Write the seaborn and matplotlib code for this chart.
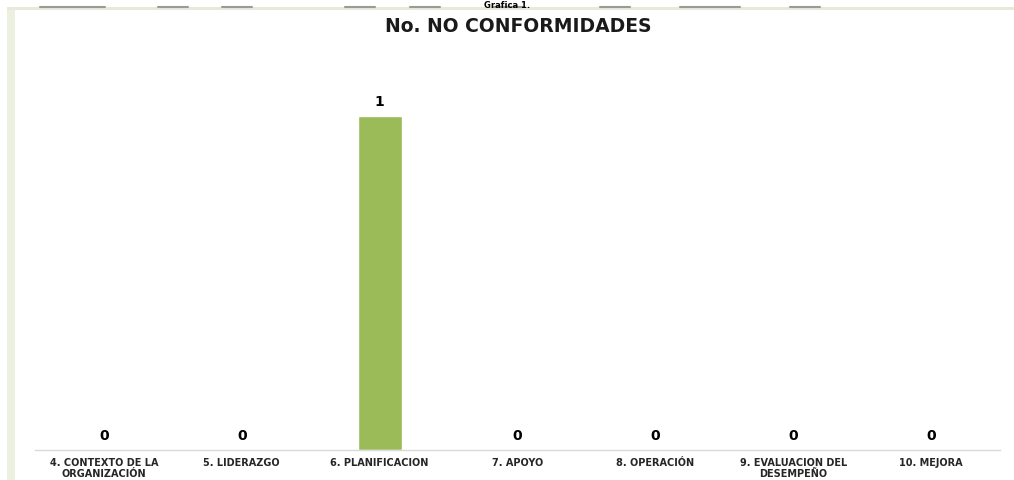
import matplotlib
matplotlib.use("Agg")
import matplotlib.pyplot as plt
import seaborn as sns
import pandas as pd
from matplotlib.patches import Rectangle
from matplotlib.lines import Line2D

categories = ["4. CONTEXTO DE LA\nORGANIZACIÓN", "5. LIDERAZGO", "6. PLANIFICACION",
              "7. APOYO", "8. OPERACIÓN", "9. EVALUACION DEL\nDESEMPEÑO", "10. MEJORA"]
values = [0, 0, 1, 0, 0, 0, 0]
title = "No. NO CONFORMIDADES"
header = "Grafica 1."

sns.set_theme(style="white")
plt.rcParams['font.family'] = ['DejaVu Sans']

fig = plt.figure(figsize=(10.14, 4.8), dpi=100)
W, H = 1014, 480

# frame decorations (screenshot border)
fig.patches.append(Rectangle((7 / W, 0), 8 / W, 1 - 7 / H, transform=fig.transFigure,
                             facecolor="#EBF1DE", edgecolor="none"))
fig.patches.append(Rectangle((7 / W, 1 - 10 / H), 1 - 7 / W, 3 / H, transform=fig.transFigure,
                             facecolor="#E6EAD9", edgecolor="none"))
for x0, x1 in [(40, 105), (158, 188), (222, 252), (345, 375), (410, 440), (493, 523),
               (600, 630), (680, 740), (790, 820)]:
    fig.lines.append(Line2D([x0 / W, x1 / W], [1 - 7 / H, 1 - 7 / H], transform=fig.transFigure,
                            color="#9a9a9a", lw=1.5))
fig.text(507 / W, 1 - 1 / H, header, ha="center", va="top", fontsize=6,
         fontweight="bold", color="black")

ax = fig.add_axes([35 / W, 1 - 450 / H, (1000 - 35) / W, (450 - 49) / H])
df = pd.DataFrame({"cat": categories, "val": values})
sns.barplot(data=df, x="cat", y="val", color="#9BBB59", width=0.32, ax=ax, saturation=1)
ax.set_ylim(0, 1.2)
ax.set_xlim(-0.5, len(categories) - 0.5)
for c in ax.containers:
    ax.bar_label(c, labels=[str(v) for v in values], padding=5, fontsize=10,
                 fontweight="bold", color="black")
ax.set_xlabel("")
ax.set_ylabel("")
ax.set_yticks([])
ax.tick_params(axis="x", length=0, pad=6)
for lab in ax.get_xticklabels():
    lab.set_fontsize(7)
    lab.set_fontweight("bold")
    lab.set_color("#262626")
    lab.set_linespacing(1.05)
    lab.set_verticalalignment("top")
for s in ["top", "right", "left"]:
    ax.spines[s].set_visible(False)
ax.spines["bottom"].set_color("#d9d9d9")
ax.spines["bottom"].set_linewidth(1)
ax.set_facecolor("white")

fig.text(518 / W, 1 - 27 / H, title, ha="center", va="center", fontsize=13.5,
         fontweight="bold", color="#1a1a1a")

fig.savefig("out.png", dpi=100, facecolor="white")
